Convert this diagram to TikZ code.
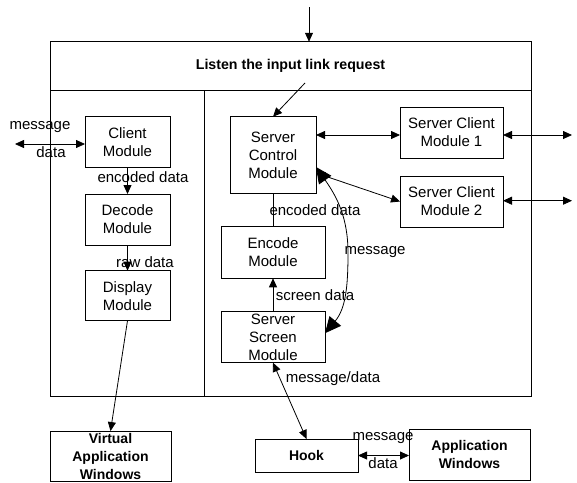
\documentclass[tikz,border=0pt]{standalone}
\usepackage{fontspec}
\setmainfont{Liberation Sans}
\usetikzlibrary{arrows.meta,calc}
\begin{document}
\begin{tikzpicture}[x=1pt,y=-1pt,
  every node/.style={font=\fontsize{15}{18}\selectfont, inner sep=0pt, outer sep=0pt},
  box/.style={draw, line width=0.8pt, align=center, rectangle},
  bbox/.style={box, font=\fontsize{14}{18}\bfseries},
  frame/.style={draw, line width=0.8pt, rectangle},
  lbl/.style={anchor=center},
  arr/.style={line width=0.8pt, -{Triangle[length=9pt,width=8pt]}},
  darr/.style={line width=0.8pt, {Triangle[length=9pt,width=8pt]}-{Triangle[length=9pt,width=8pt]}},
  bigarr/.style={line width=0.8pt, {Triangle[length=16pt,width=15pt]}-{Triangle[length=16pt,width=15pt]}},
  plain/.style={line width=0.8pt}]
\useasboundingbox (0,0) rectangle (577,482);
% frames
\node[frame, minimum width=481pt, minimum height=48.3pt, font=\fontsize{14.2}{18}\bfseries] (listen) at (290.5,65.9) {Listen the input link request};
\node[frame, minimum width=154pt, minimum height=306pt] (lpanel) at (127,243) {};
\node[frame, minimum width=327pt, minimum height=306pt] (rpanel) at (367.5,243) {};
% modules
\node[box, minimum width=85pt, minimum height=51pt] (client) at (127.5,142.2) {Client\\Module};
\node[box, minimum width=85pt, minimum height=51pt] (decode) at (127.5,219.5) {Decode\\Module};
\node[box, minimum width=85pt, minimum height=50pt] (display) at (127.5,295.7) {Display\\Module};
\node[bbox, minimum width=121pt, minimum height=50.5pt] (virtual) at (110.5,456.3) {Virtual\\Application\\Windows};
\node[box, minimum width=86pt, minimum height=76.6pt] (sc) at (273,155) {Server\\Control\\Module};
\node[box, minimum width=103pt, minimum height=51pt] (scm1) at (451.5,132.5) {Server Client\\Module 1};
\node[box, minimum width=103pt, minimum height=51pt] (scm2) at (451.5,201.5) {Server Client\\Module 2};
\node[box, minimum width=104pt, minimum height=51.6pt] (encode) at (273,252.5) {Encode\\Module};
\node[box, minimum width=104pt, minimum height=51pt] (ssm) at (273,337.2) {Server\\Screen\\Module};
\node[bbox, minimum width=103pt, minimum height=33pt] (hook) at (306.5,455.5) {Hook};
\node[bbox, minimum width=121pt, minimum height=51pt] (appwin) at (469.5,454.5) {Application\\Windows};
% free ends
\coordinate (topin) at (309,7);
\coordinate (lstart) at (305,83);
\coordinate (msgL) at (15,144);
\coordinate (out1) at (572,135);
\coordinate (out2) at (572,200.7);
\coordinate (curvemid) at (348,253);
% connectors
\draw[arr] (topin) -- (topin |- listen.north);
\draw[arr] (lstart) -- (sc.north);
\draw[darr] (msgL) -- (msgL -| client.west);
\draw[arr] (client.south) -- (decode.north);
\draw[arr] (decode.south) -- (display.north);
\draw[arr] (display.south) -- (virtual.north);
\draw[darr] ([yshift=-2.5pt]sc.east |- scm1.west) -- ([yshift=-2.5pt]scm1.west);
\draw[darr] ([yshift=-2.5pt]scm1.east) -- (out1);
\draw[darr] (scm2.east |- out2) -- (out2);
\draw[darr] ([yshift=-18pt]sc.east) -- (scm2.west);
\draw[plain] (sc.south) -- (encode.north);
\draw[arr] (ssm.north) -- (encode.south);
\draw[bigarr] ([yshift=-12pt]sc.east) to[out=-55,in=90] (curvemid) to[out=-90,in=50] ([yshift=4pt]ssm.east);
\draw[darr] (ssm.south) -- (hook.north);
\draw[darr] (hook.east) -- (hook.east -| appwin.west);
% labels
\node[lbl] (l1) at (40,127) {message};
\node[lbl] (l2) at (51,152) {data};
\node[lbl] (l3) at (143,176.7) {encoded data};
\node[lbl] (l4) at (145,261.7) {raw data};
\node[lbl] (l5) at (315,210) {encoded data};
\node[lbl] (l6) at (375,251.7) {message};
\node[lbl] (l7) at (315,295) {screen data};
\node[lbl] (l8) at (333,379) {message/data};
\node[lbl] (l9) at (383,438) {message};
\node[lbl] (l10) at (383,463) {data};
\end{tikzpicture}
\end{document}
